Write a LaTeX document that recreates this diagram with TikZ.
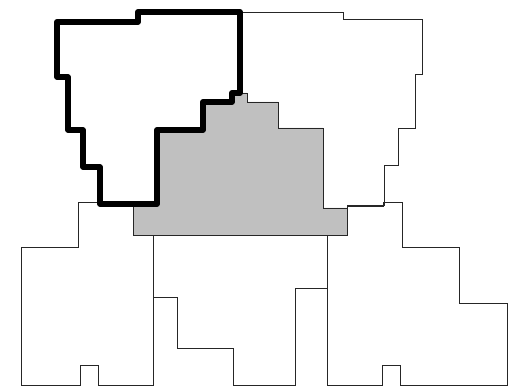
\documentclass[tikz,border=0pt]{standalone}
\usepackage{tikz}
\definecolor{shade}{RGB}{192,192,192}

\begin{document}
\begin{tikzpicture}[
  x=1pt, y=-1pt,
  region/.style ={draw=black!85, line width=0.8pt, line join=miter},
  covered/.style={fill=shade, draw=black!85, line width=0.8pt},
  chosen/.style ={draw=black, line width=5.8pt, line join=round},
]
  \useasboundingbox (0,0) rectangle (527,387);
  % shaded cell under the highlighted one
  \draw[covered] (157,130) -- (203,130) -- (203,102) -- (232,102) -- (232,93) -- (247,93)
    -- (247,102) -- (278,102) -- (278,128) -- (323,128) -- (323,208) -- (347,208)
    -- (347,235) -- (133,235) -- (133,205) -- (157,205) -- cycle;
  % top right cell
  \draw[region] (240,12) -- (343,12) -- (343,19) -- (422,19) -- (422,74) -- (415,74)
    -- (415,128) -- (398,128) -- (398,165) -- (384,165) -- (384,205) -- (347,205)
    -- (347,208) -- (323,208) -- (323,128) -- (278,128) -- (278,102) -- (247,102)
    -- (247,93) -- (240,93) -- cycle;
  % bottom left cell
  \draw[region] (78,202) -- (100,202) -- (100,205) -- (133,205) -- (133,235) -- (153,235)
    -- (153,385) -- (98,385) -- (98,365) -- (80,365) -- (80,385) -- (21,385)
    -- (21,247) -- (78,247) -- cycle;
  % bottom middle cell
  \draw[region] (153,235) -- (327,235) -- (327,288) -- (295,288) -- (295,385) -- (233,385)
    -- (233,348) -- (177,348) -- (177,297) -- (153,297) -- cycle;
  % bottom right cell
  \draw[region] (327,235) -- (347,235) -- (347,206) -- (383,206) -- (383,202) -- (402,202)
    -- (402,247) -- (459,247) -- (459,303) -- (507,303) -- (507,385) -- (400,385)
    -- (400,365) -- (382,365) -- (382,385) -- (327,385) -- cycle;
  % highlighted cell
  \draw[chosen] (57,22) -- (138,22) -- (138,12) -- (240,12) -- (240,93) -- (232,93)
    -- (232,102) -- (203,102) -- (203,130) -- (157,130) -- (157,204) -- (100,204)
    -- (100,167) -- (83,167) -- (83,130) -- (68,130) -- (68,77) -- (57,77) -- cycle;
\end{tikzpicture}
\end{document}
